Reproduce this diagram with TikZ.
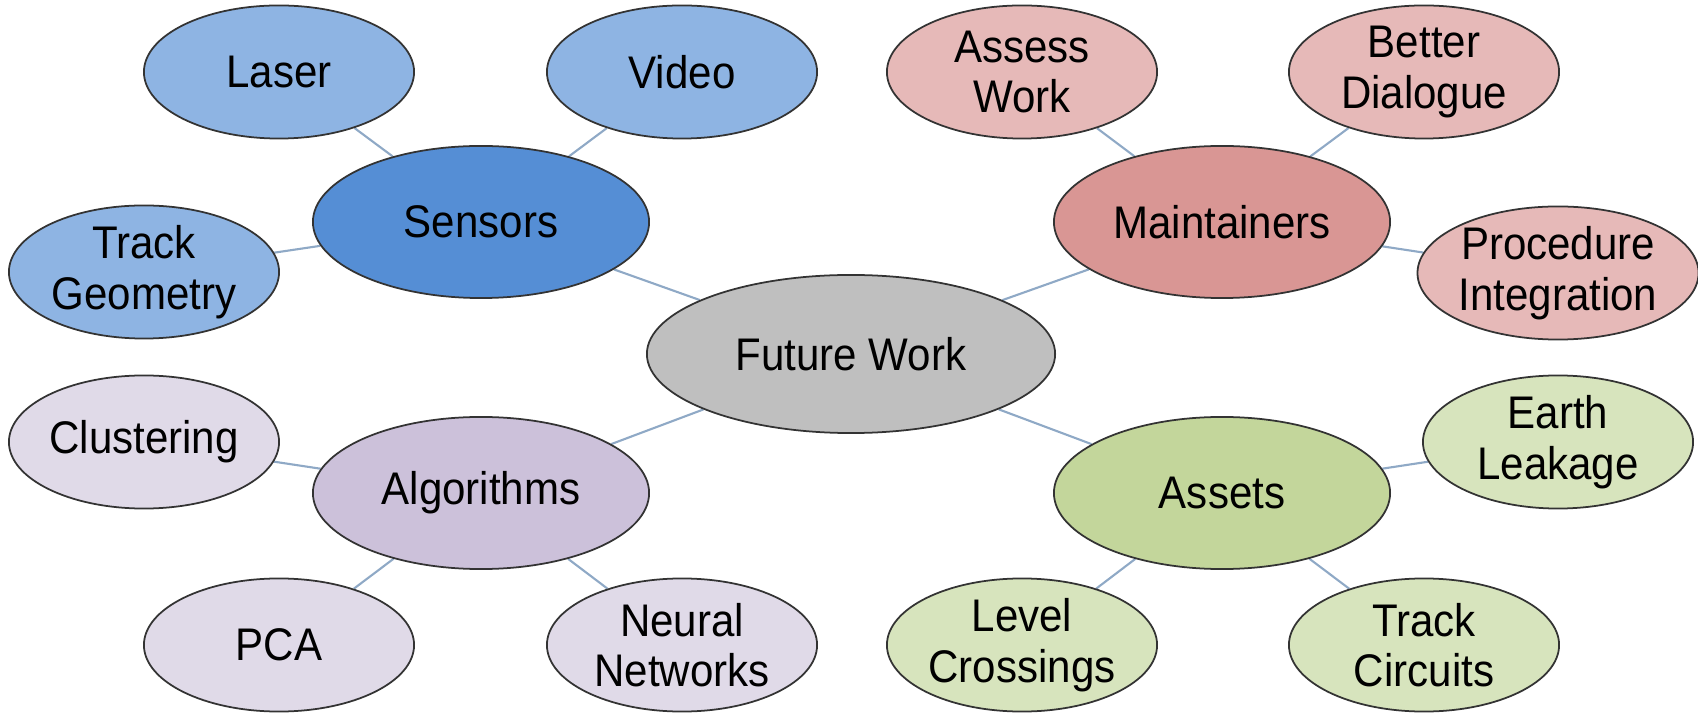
\documentclass[tikz,border=0pt]{standalone}
\usepackage{fontspec}
\setmainfont{Liberation Sans}[FakeStretch=0.92]
\usepackage{tikz}
\usetikzlibrary{positioning,shapes.geometric,backgrounds}

\definecolor{hubgray}{HTML}{BFBFBF}
\definecolor{sensdark}{HTML}{558ED5}
\definecolor{senslight}{HTML}{8EB4E3}
\definecolor{maintdark}{HTML}{D99694}
\definecolor{maintlight}{HTML}{E6B9B8}
\definecolor{algodark}{HTML}{CCC1DA}
\definecolor{algolight}{HTML}{E0DAE8}
\definecolor{assetdark}{HTML}{C3D69B}
\definecolor{assetlight}{HTML}{D7E4BD}
\definecolor{linkblue}{HTML}{8FA9C6}

\begin{document}
\begin{tikzpicture}
  [
    x=0.01cm, y=-0.01cm,
    every node/.style={draw=black!80,ellipse,line width=0.5pt,inner sep=0pt,align=center,
      font=\fontsize{13}{14.4}\selectfont},
    hub/.style={minimum width=4.08cm,minimum height=1.58cm,fill=hubgray},
    topic/.style={minimum width=3.36cm,minimum height=1.52cm},
    leaf/.style={minimum width=2.7cm,minimum height=1.33cm},
    link/.style={draw=linkblue,line width=0.6pt}
  ]

  % Rahmen
  \useasboundingbox (0,0) rectangle (1698,713);

  % Mitte
  \node[hub] (future) at (851,354) {Future Work};

  % Sensoren
  \node[topic,fill=sensdark] (sensors) at (481,222) {Sensors};
  \node[leaf,fill=senslight] (laser) at (279,72) {Laser};
  \node[leaf,fill=senslight] (video) at (682,72) {Video};
  \node[leaf,fill=senslight] (trackgeo) at (144,272) {Track\\Geometry};

  % Instandhalter
  \node[topic,fill=maintdark] (maint) at (1222,222) {Maintainers};
  \node[leaf,fill=maintlight] (assess) at (1022,72) {Assess\\Work};
  \node[leaf,fill=maintlight] (dialogue) at (1424,72) {Better\\Dialogue};
  \node[leaf,fill=maintlight] (procedure) at (1558,273) {Procedure\\Integration};

  % Algorithmen
  \node[topic,fill=algodark] (algo) at (481,493) {Algorithms};
  \node[leaf,fill=algolight] (cluster) at (144,442) {Clustering};
  \node[leaf,fill=algolight] (pca) at (279,645) {PCA};
  \node[leaf,fill=algolight] (neural) at (682,645) {Neural\\Networks};

  % Anlagen
  \node[topic,fill=assetdark] (assets) at (1222,493) {Assets};
  \node[leaf,fill=assetlight] (earth) at (1558,442) {Earth\\Leakage};
  \node[leaf,fill=assetlight] (level) at (1022,645) {Level\\Crossings};
  \node[leaf,fill=assetlight] (trackcirc) at (1424,645) {Track\\Circuits};

  % Verbindungen
  \begin{pgfonlayer}{background}
    \foreach \a/\b in {future/sensors,future/maint,future/algo,future/assets,
                       sensors/laser,sensors/video,sensors/trackgeo,
                       maint/assess,maint/dialogue,maint/procedure,
                       algo/cluster,algo/pca,algo/neural,
                       assets/earth,assets/level,assets/trackcirc}
      \draw[link] (\a) -- (\b);
  \end{pgfonlayer}
\end{tikzpicture}
\end{document}
